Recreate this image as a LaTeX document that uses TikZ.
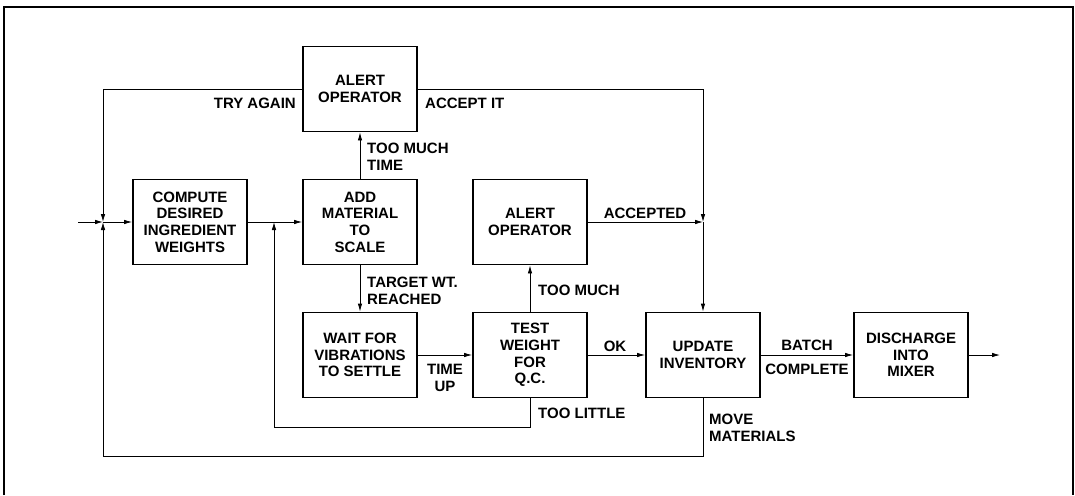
\documentclass[tikz,border=0pt]{standalone}
\usepackage{fontspec}
\setmainfont{Liberation Sans}
\usepackage{tikz}
\usetikzlibrary{arrows.meta}

\begin{document}
\begin{tikzpicture}[x=1pt,y=-1pt,every node/.style={font=\bfseries\fontsize{15}{16.7}\selectfont,align=center,inner sep=0pt},box/.style={draw,line width=1.8pt,minimum width=114pt,minimum height=85pt},lbl/.style={align=left},arr/.style={-{Latex[length=8pt,width=4.5pt]},line width=0.8pt}]
\useasboundingbox (0,0) rectangle (1075,495);
\draw[line width=1.4pt] (4,495) -- (4,7) -- (1073,7) -- (1073,495);
\node[box] (alertA) at (360,89) {ALERT\\OPERATOR};
\node[box] (compute) at (190,222) {COMPUTE\\DESIRED\\INGREDIENT\\WEIGHTS};
\node[box] (add) at (360,222) {ADD\\MATERIAL\\TO\\SCALE};
\node[box] (alertB) at (530,222) {ALERT\\OPERATOR};
\node[box] (wait) at (360,355) {WAIT FOR\\VIBRATIONS\\TO SETTLE};
\node[box] (test) at (530,355) {TEST\\WEIGHT\\FOR\\Q.C.};
\node[box] (update) at (703,355) {UPDATE\\INVENTORY};
\node[box] (discharge) at (911,355) {DISCHARGE\\INTO\\MIXER};
\coordinate (src) at (78,222);
\coordinate (j1) at (103,222);
\coordinate (j2) at (274,222);
\coordinate (j3) at (703,222);
\coordinate (lowA) at (274,427);
\coordinate (lowB) at (103,456);
\coordinate (sink) at (1000,355);
\draw[arr] (src) -- (j1);
\draw[arr] (j1) -- (compute.west);
\draw[arr] (compute.east) -- (add.west);
\draw[arr] (add.north) -- (alertA.south);
\draw[arr] (add.south) -- (wait.north);
\draw[arr] (wait.east) -- (test.west);
\draw[arr] (test.north) -- (alertB.south);
\draw[arr] (test.east) -- (update.west);
\draw[arr] (update.east) -- (discharge.west);
\draw[arr] (discharge.east) -- (sink);
\draw[arr] (alertA.west) -| (j1);
\draw[arr] (alertA.east) -| (j3);
\draw[arr] (alertB.east) -- (j3);
\draw[arr] (j3) -- (update.north);
\draw[arr] (test.south) |- (lowA) -- (j2);
\draw[arr] (update.south) |- (lowB) -- (j1);
\node[anchor=east] (tryagain) at (296,103) {TRY AGAIN};
\node[anchor=west] (acceptit) at (425,103) {ACCEPT IT};
\node[lbl,anchor=west] (toolong) at (367,157) {TOO MUCH\\TIME};
\node[lbl,anchor=west] (target) at (367,291) {TARGET WT.\\REACHED};
\node (accepted) at (645,213) {ACCEPTED};
\node[anchor=west] (toomuch) at (538,290) {TOO MUCH};
\node (ok) at (615,346) {OK};
\node (timeup) at (445,378) {TIME\\UP};
\node[anchor=west] (toolittle) at (538,413) {TOO LITTLE};
\node[lbl,anchor=west] (move) at (709,428) {MOVE\\MATERIALS};
\node (batch) at (807,345) {BATCH};
\node (complete) at (807,369) {COMPLETE};
\end{tikzpicture}
\end{document}
